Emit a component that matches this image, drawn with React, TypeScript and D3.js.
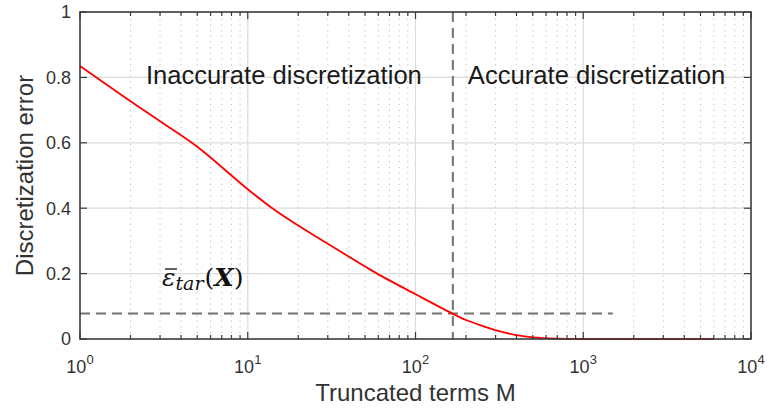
import { useRef, useEffect } from "react";
import * as d3 from "d3";

// Truncated terms M vs discretization error
const termsM = [1, 2, 3, 5, 10, 14, 20, 30, 50, 59, 100, 167, 200, 250, 300, 400, 500, 700, 1000, 2000, 6000];
const errorValues = [0.835, 0.727, 0.666, 0.588, 0.458, 0.4, 0.347, 0.291, 0.222, 0.2, 0.137, 0.077, 0.058, 0.04, 0.027, 0.012, 0.005, 0.001, 0, 0, 0];

const xTickExponents = [0, 1, 2, 3, 4];
const yTickValues = [0, 0.2, 0.4, 0.6, 0.8, 1];

const thresholdM = 167;
const targetError = 0.078;
const targetLineEndM = 1500;
const regionLabels = ["Inaccurate discretization", "Accurate discretization"];

const SANS = "'Liberation Sans', Arial, sans-serif";
const SERIF = "'DejaVu Serif', 'Liberation Serif', serif";

const DiscretizationChart: React.FC = () => {
    const svgRef = useRef<SVGSVGElement | null>(null);

    useEffect(() => {
        if (!svgRef.current) return;

        const width = 769;
        const height = 410;
        const margin = { top: 12, right: 18, bottom: 71, left: 80 };

        const x = d3
            .scaleLog()
            .domain([1, 1e4])
            .range([margin.left, width - margin.right]);
        const y = d3
            .scaleLinear()
            .domain([0, 1])
            .range([height - margin.bottom, margin.top]);

        const [x0, x1] = x.range();
        const [y0, y1] = y.range();

        const svg = d3.select(svgRef.current);
        svg.selectAll("*").remove();
        svg.attr("width", width).attr("height", height);

        const majorX = xTickExponents.map((e) => Math.pow(10, e));
        const minorX: number[] = [];
        xTickExponents.slice(0, -1).forEach((e) => {
            for (let k = 2; k <= 9; k++) minorX.push(k * Math.pow(10, e));
        });

        // minor dotted grid
        svg.append("g")
            .selectAll("line")
            .data(minorX)
            .join("line")
            .attr("x1", (d) => x(d))
            .attr("x2", (d) => x(d))
            .attr("y1", y0)
            .attr("y2", y1)
            .attr("stroke", "#bdbdbd")
            .attr("stroke-width", 1)
            .attr("stroke-dasharray", "1.2,4.5");

        // major grid
        const grid = svg.append("g").attr("stroke", "#dcdcdc").attr("stroke-width", 1.2);
        grid.selectAll("line.v")
            .data(majorX.slice(1, -1))
            .join("line")
            .attr("class", "v")
            .attr("x1", (d) => x(d))
            .attr("x2", (d) => x(d))
            .attr("y1", y0)
            .attr("y2", y1);
        grid.selectAll("line.h")
            .data(yTickValues.slice(1, -1))
            .join("line")
            .attr("class", "h")
            .attr("x1", x0)
            .attr("x2", x1)
            .attr("y1", (d) => y(d))
            .attr("y2", (d) => y(d));

        // region labels
        svg.append("text")
            .attr("x", x(thresholdM) - 31)
            .attr("y", 84)
            .attr("text-anchor", "end")
            .attr("font-family", SANS)
            .attr("font-size", 25.6)
            .attr("fill", "#1a1a1a")
            .text(regionLabels[0]);
        svg.append("text")
            .attr("x", x(thresholdM) + 15)
            .attr("y", 84)
            .attr("text-anchor", "start")
            .attr("font-family", SANS)
            .attr("font-size", 25.6)
            .attr("fill", "#1a1a1a")
            .text(regionLabels[1]);

        // threshold dashed lines
        const dash = svg
            .append("g")
            .attr("stroke", "#737373")
            .attr("stroke-width", 2)
            .attr("stroke-dasharray", "10,6");
        dash.append("line")
            .attr("x1", x(thresholdM))
            .attr("x2", x(thresholdM))
            .attr("y1", y1)
            .attr("y2", y0);
        dash.append("line")
            .attr("x1", x0)
            .attr("x2", x(targetLineEndM))
            .attr("y1", y(targetError))
            .attr("y2", y(targetError));

        // epsilon label
        const eps = svg
            .append("text")
            .attr("x", 162)
            .attr("y", 286)
            .attr("font-family", SERIF)
            .attr("font-size", 25)
            .attr("fill", "#111");
        eps.append("tspan").attr("font-style", "italic").text("ε");
        eps.append("tspan")
            .attr("font-style", "italic")
            .attr("font-size", 19)
            .attr("dy", 4)
            .text("tar");
        eps.append("tspan").attr("dy", -4).attr("dx", 1).text("(");
        eps.append("tspan")
            .attr("font-style", "italic")
            .attr("font-weight", "bold")
            .text("X");
        eps.append("tspan").text(")");
        svg.append("line")
            .attr("x1", 165)
            .attr("x2", 177)
            .attr("y1", 269)
            .attr("y2", 269)
            .attr("stroke", "#111")
            .attr("stroke-width", 1.3);

        // red curve
        const line = d3
            .line<number>()
            .x((_d, i) => x(termsM[i]))
            .y((d) => y(Math.max(0, d)))
            .curve(d3.curveCatmullRom.alpha(0.5));
        svg.append("path")
            .datum(errorValues)
            .attr("d", line)
            .attr("fill", "none")
            .attr("stroke", "#ff0000")
            .attr("stroke-width", 1.8);

        // ticks (inward, all four sides)
        const ticks = svg.append("g").attr("stroke", "#3a3a3a").attr("stroke-width", 1.2);
        const addXTicks = (vals: number[], len: number) => {
            ticks.selectAll(null)
                .data(vals)
                .join("line")
                .attr("x1", (d) => x(d))
                .attr("x2", (d) => x(d))
                .attr("y1", y0)
                .attr("y2", y0 - len);
            ticks.selectAll(null)
                .data(vals)
                .join("line")
                .attr("x1", (d) => x(d))
                .attr("x2", (d) => x(d))
                .attr("y1", y1)
                .attr("y2", y1 + len);
        };
        addXTicks(majorX, 7);
        addXTicks(minorX, 4);
        ticks.selectAll(null)
            .data(yTickValues)
            .join("line")
            .attr("x1", x0)
            .attr("x2", x0 + 7)
            .attr("y1", (d) => y(d))
            .attr("y2", (d) => y(d));
        ticks.selectAll(null)
            .data(yTickValues)
            .join("line")
            .attr("x1", x1)
            .attr("x2", x1 - 7)
            .attr("y1", (d) => y(d))
            .attr("y2", (d) => y(d));

        // axis box
        svg.append("rect")
            .attr("x", x0)
            .attr("y", y1)
            .attr("width", x1 - x0)
            .attr("height", y0 - y1)
            .attr("fill", "none")
            .attr("stroke", "#3a3a3a")
            .attr("stroke-width", 1.6);

        // y tick labels
        const fmtY = (d: number) => (d === 0 || d === 1 ? String(d) : d.toFixed(1));
        svg.append("g")
            .selectAll("text")
            .data(yTickValues)
            .join("text")
            .attr("x", x0 - 9)
            .attr("y", (d) => y(d))
            .attr("dy", "0.35em")
            .attr("text-anchor", "end")
            .attr("font-family", SANS)
            .attr("font-size", 18)
            .attr("fill", "#333")
            .text(fmtY);

        // x tick labels: 10^e
        const xl = svg
            .append("g")
            .selectAll("text")
            .data(xTickExponents)
            .join("text")
            .attr("x", (d) => x(Math.pow(10, d)))
            .attr("y", 373)
            .attr("text-anchor", "middle")
            .attr("font-family", SANS)
            .attr("font-size", 18)
            .attr("fill", "#333");
        xl.append("tspan").text("10");
        xl.append("tspan")
            .attr("font-size", 13)
            .attr("dy", -9)
            .text((d) => String(d));

        // axis titles
        svg.append("text")
            .attr("x", (x0 + x1) / 2)
            .attr("y", 401)
            .attr("text-anchor", "middle")
            .attr("font-family", SANS)
            .attr("font-size", 24)
            .attr("fill", "#333")
            .text("Truncated terms M");
        svg.append("text")
            .attr("transform", `translate(33,${(y0 + y1) / 2}) rotate(-90)`)
            .attr("text-anchor", "middle")
            .attr("font-family", SANS)
            .attr("font-size", 24)
            .attr("fill", "#333")
            .text("Discretization error");
    }, []);

    return (
        <svg
            ref={svgRef}
            style={{ position: "absolute", left: 0, top: 0, background: "#fff" }}
        />
    );
};

export default function App() {
    return <DiscretizationChart />;
}
